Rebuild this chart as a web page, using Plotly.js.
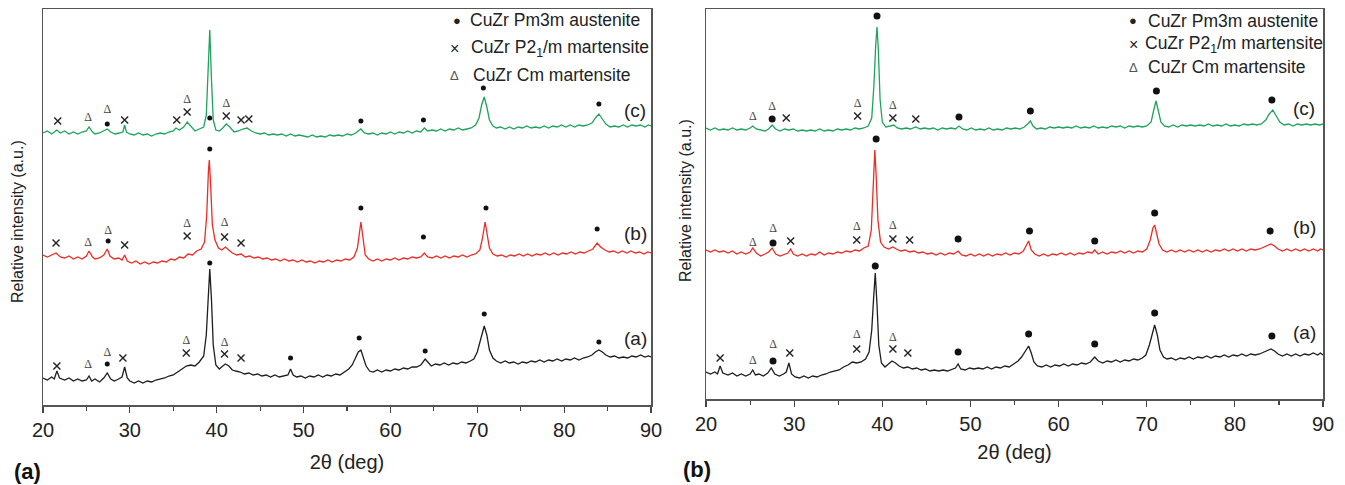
<!DOCTYPE html>
<html>
<head>
<meta charset="utf-8">
<script src="https://cdn.plot.ly/plotly-3.0.1.min.js"></script>
<style>html,body{margin:0;padding:0;background:#fff;}#chart{width:1345px;height:485px;}</style>
</head>
<body>
<div id="chart"></div>
<script>
// ---------- Panel (a): diffraction patterns [2theta, intensity a.u.] ----------
const panelA_a = [[20,27],[20.5,25],[21,28],[21.3,26],[21.6,34],[21.9,27],[22.5,25],[23,27],[23.5,24],[24,26],[24.5,24],[25,25],[25.3,29],[25.6,24],[26,26],[26.5,23],[27,27],[27.4,32],[27.8,26],[28.2,24],[28.7,26],[29.1,28],[29.4,38],[29.7,27],[30,24],[30.5,22],[31,24],[31.5,22],[32,24],[32.5,23],[33,25],[33.5,26],[34,27],[34.5,29],[35,30],[35.5,33],[36,36],[36.5,39],[37,40],[37.5,39],[38,43],[38.5,49],[38.8,70],[39,105],[39.2,136],[39.4,105],[39.6,60],[39.9,40],[40.3,36],[40.7,39],[41,41],[41.4,39],[41.8,35],[42.2,34],[42.7,33],[43.2,31],[43.7,32],[44.2,30],[44.7,31],[45.2,29],[45.7,30],[46.2,28],[46.7,30],[47.2,28],[47.7,29],[48.2,30],[48.5,36],[48.8,30],[49.2,28],[49.7,29],[50.2,27],[50.7,29],[51.2,28],[51.7,30],[52.2,28],[52.7,30],[53.2,29],[53.7,31],[54.2,30],[54.7,33],[55.2,36],[55.6,40],[56,47],[56.3,53],[56.6,55],[56.9,48],[57.2,39],[57.6,34],[58,33],[58.5,35],[59,33],[59.5,35],[60,34],[60.5,36],[61,35],[61.5,37],[62,36],[62.5,38],[63,38],[63.5,40],[64,46],[64.3,43],[64.7,39],[65.2,41],[65.7,40],[66.2,42],[66.7,40],[67.2,42],[67.7,41],[68.2,43],[68.7,42],[69.2,44],[69.6,46],[70,53],[70.4,65],[70.8,79],[71.1,70],[71.4,55],[71.8,47],[72.2,44],[72.7,42],[73.2,44],[73.7,42],[74.2,43],[74.7,41],[75.2,43],[75.7,42],[76.2,44],[76.7,43],[77.2,45],[77.7,43],[78.2,45],[78.7,44],[79.2,46],[79.7,44],[80.2,46],[80.7,45],[81.2,47],[81.7,45],[82.2,47],[82.7,48],[83.2,50],[83.6,53],[84,55],[84.4,53],[84.8,50],[85.3,48],[85.8,49],[86.3,47],[86.8,48],[87.3,47],[87.8,49],[88.3,48],[88.8,50],[89.3,48],[89.7,49],[90,48]];

const panelA_b = [[20,150],[20.5,148],[21,150],[21.5,152],[22,148],[22.5,147],[23,149],[23.5,146],[24,148],[24.5,146],[25,149],[25.3,154],[25.7,148],[26,146],[26.5,147],[27,150],[27.4,156],[27.7,149],[28.2,146],[28.7,147],[29.1,145],[29.4,150],[29.7,144],[30.2,142],[30.7,144],[31.2,141],[31.7,143],[32.2,141],[32.7,143],[33.2,142],[33.7,144],[34.2,143],[34.7,146],[35.2,145],[35.7,148],[36.2,147],[36.7,151],[37.2,150],[37.7,154],[38.2,156],[38.6,163],[38.85,190],[39.05,235],[39.15,245],[39.3,220],[39.5,180],[39.8,165],[40.2,157],[40.6,155],[41,158],[41.4,155],[41.8,152],[42.3,150],[42.8,151],[43.3,148],[43.8,149],[44.3,147],[44.8,148],[45.3,146],[45.8,147],[46.3,145],[46.8,146],[47.3,144],[47.8,146],[48.3,144],[48.8,145],[49.3,143],[49.8,145],[50.3,143],[50.8,144],[51.3,142],[51.8,144],[52.3,143],[52.8,145],[53.3,143],[53.8,145],[54.3,144],[54.8,146],[55.3,145],[55.8,148],[56.2,157],[56.45,177],[56.6,183],[56.8,170],[57.1,150],[57.5,146],[58,144],[58.5,146],[59,144],[59.5,146],[60,145],[60.5,147],[61,145],[61.5,147],[62,146],[62.5,148],[63,147],[63.5,148],[63.9,152],[64.3,148],[64.8,147],[65.3,149],[65.8,147],[66.3,149],[66.8,147],[67.3,149],[67.8,148],[68.3,150],[68.8,148],[69.3,150],[69.8,151],[70.3,155],[70.6,167],[70.9,183],[71.1,173],[71.4,157],[71.8,151],[72.3,149],[72.8,150],[73.3,148],[73.8,150],[74.3,149],[74.8,151],[75.3,149],[75.8,151],[76.3,149],[76.8,151],[77.3,150],[77.8,152],[78.3,150],[78.8,152],[79.3,150],[79.8,152],[80.3,151],[80.8,153],[81.3,151],[81.8,153],[82.3,152],[82.8,154],[83.3,156],[83.8,162],[84.2,158],[84.7,155],[85.2,153],[85.7,154],[86.2,152],[86.7,154],[87.2,152],[87.7,154],[88.2,152],[88.7,153],[89.2,151],[89.6,153],[90,152]];

const panelA_c = [[20,272],[20.5,274],[21,271],[21.6,275],[22,272],[22.5,274],[23,271],[23.5,273],[24,271],[24.5,273],[25,274],[25.3,278],[25.7,273],[26,271],[26.5,272],[27,274],[27.4,276],[27.8,273],[28.3,271],[28.8,272],[29.2,273],[29.4,280],[29.6,273],[30,271],[30.5,270],[31,272],[31.5,270],[32,271],[32.5,269],[33,271],[33.5,272],[34,271],[34.5,273],[35,274],[35.3,277],[35.7,275],[36.2,278],[36.6,283],[37,279],[37.5,274],[38,276],[38.5,278],[38.8,290],[39,330],[39.2,375],[39.4,325],[39.6,285],[39.9,275],[40.3,274],[40.7,277],[41.1,281],[41.5,278],[42,273],[42.5,274],[43,276],[43.5,277],[44,274],[44.5,272],[45,271],[45.5,272],[46,270],[46.5,271],[47,270],[47.5,271],[48,269],[48.5,271],[49,269],[49.5,270],[50,269],[50.5,268],[51,270],[51.5,268],[52,269],[52.5,268],[53,270],[53.5,269],[54,270],[54.5,269],[55,271],[55.5,270],[56,272],[56.6,276],[57,272],[57.5,271],[58,272],[58.5,270],[59,272],[59.5,271],[60,273],[60.5,271],[61,273],[61.5,272],[62,274],[62.5,272],[63,274],[63.5,273],[63.9,277],[64.3,274],[64.8,275],[65.3,274],[65.8,276],[66.3,274],[66.8,276],[67.3,275],[67.8,277],[68.3,275],[68.8,276],[69.3,277],[69.8,280],[70.2,287],[70.5,300],[70.8,308],[71.1,298],[71.4,285],[71.8,279],[72.2,277],[72.7,278],[73.2,276],[73.7,278],[74.2,276],[74.7,278],[75.2,277],[75.7,279],[76.2,277],[76.7,278],[77.2,277],[77.7,279],[78.2,277],[78.7,279],[79.2,278],[79.7,280],[80.2,278],[80.7,280],[81.2,278],[81.7,280],[82.2,279],[82.7,280],[83.2,282],[83.6,287],[84,291],[84.4,286],[84.8,281],[85.3,278],[85.8,279],[86.3,278],[86.8,280],[87.3,278],[87.8,280],[88.3,279],[88.8,280],[89.3,278],[89.7,280],[90,279]];

// ---------- Panel (b) ----------
const panelB_a = [[20,27],[20.5,25],[21,27],[21.3,25],[21.6,33],[21.9,26],[22.5,24],[23,26],[23.5,23],[24,25],[24.5,23],[25,25],[25.3,29],[25.6,24],[26,25],[26.5,23],[27,26],[27.4,31],[27.8,25],[28.3,23],[28.8,25],[29.1,27],[29.4,36],[29.7,25],[30.1,22],[30.6,21],[31.1,23],[31.6,21],[32.1,23],[32.6,22],[33.1,24],[33.6,25],[34.1,27],[34.6,28],[35.1,29],[35.6,32],[36.1,34],[36.6,37],[37.1,36],[37.6,37],[38.1,40],[38.5,47],[38.8,69],[39,99],[39.2,126],[39.4,94],[39.6,54],[39.9,36],[40.3,32],[40.7,35],[41.1,38],[41.5,36],[41.9,33],[42.4,31],[42.9,32],[43.4,30],[43.9,31],[44.4,29],[44.9,30],[45.4,28],[45.9,29],[46.4,28],[46.9,29],[47.4,28],[47.9,30],[48.3,31],[48.6,35],[48.9,30],[49.4,29],[49.9,31],[50.4,30],[50.9,31],[51.4,30],[51.9,32],[52.4,30],[52.9,32],[53.4,31],[53.9,33],[54.4,32],[54.9,35],[55.4,38],[55.8,42],[56.2,48],[56.6,53],[56.9,46],[57.2,37],[57.6,33],[58.1,32],[58.6,34],[59.1,32],[59.6,34],[60.1,33],[60.6,35],[61.1,33],[61.6,35],[62.1,34],[62.6,36],[63.1,35],[63.6,37],[64.1,42],[64.5,38],[65,36],[65.5,38],[66,37],[66.5,39],[67,37],[67.5,39],[68,38],[68.5,40],[69,39],[69.5,41],[69.9,44],[70.3,54],[70.6,64],[70.9,74],[71.2,64],[71.5,49],[71.9,42],[72.3,40],[72.8,41],[73.3,39],[73.8,41],[74.3,40],[74.8,42],[75.3,40],[75.8,42],[76.3,41],[76.8,43],[77.3,41],[77.8,43],[78.3,42],[78.8,44],[79.3,42],[79.8,44],[80.3,43],[80.8,45],[81.3,43],[81.8,45],[82.3,44],[82.8,45],[83.3,47],[83.7,49],[84.1,50],[84.5,48],[84.9,45],[85.4,43],[85.9,45],[86.4,43],[86.9,45],[87.4,43],[87.9,45],[88.4,44],[88.9,46],[89.4,44],[89.7,46],[90,44]];

const panelB_b = [[20,149],[20.5,147],[21,149],[21.5,147],[22,148],[22.5,146],[23,148],[23.5,145],[24,147],[24.5,145],[25,147],[25.3,151],[25.7,146],[26.2,143],[26.7,145],[27.1,147],[27.5,151],[27.9,145],[28.4,143],[28.9,145],[29.3,146],[29.6,150],[29.9,145],[30.4,143],[30.9,145],[31.4,143],[31.9,145],[32.4,144],[32.9,147],[33.4,144],[33.9,146],[34.4,145],[34.9,147],[35.4,146],[35.9,148],[36.4,147],[36.9,149],[37.4,148],[37.9,151],[38.4,153],[38.75,169],[38.95,209],[39.15,249],[39.3,224],[39.5,179],[39.8,157],[40.2,152],[40.7,150],[41.2,152],[41.6,150],[42.1,148],[42.6,149],[43.1,147],[43.6,148],[44.1,146],[44.6,147],[45.1,145],[45.6,146],[46.1,144],[46.6,146],[47.1,144],[47.6,146],[48.1,145],[48.6,148],[49,144],[49.5,143],[50,145],[50.5,143],[51,145],[51.5,143],[52,145],[52.5,143],[53,145],[53.5,144],[54,146],[54.5,144],[55,146],[55.5,145],[56,148],[56.3,153],[56.6,158],[56.9,149],[57.3,145],[57.8,143],[58.3,145],[58.8,143],[59.3,145],[59.8,144],[60.3,146],[60.8,144],[61.3,146],[61.8,144],[62.3,146],[62.8,145],[63.3,147],[63.8,146],[64.1,149],[64.5,145],[65,147],[65.5,145],[66,147],[66.5,146],[67,148],[67.5,146],[68,148],[68.5,146],[69,148],[69.5,147],[70,150],[70.4,159],[70.7,171],[70.9,174],[71.1,167],[71.4,155],[71.8,149],[72.3,147],[72.8,149],[73.3,147],[73.8,149],[74.3,147],[74.8,149],[75.3,147],[75.8,149],[76.3,147],[76.8,149],[77.3,147],[77.8,149],[78.3,148],[78.8,150],[79.3,148],[79.8,150],[80.3,148],[80.8,150],[81.3,148],[81.8,150],[82.3,149],[82.8,150],[83.3,152],[83.7,154],[84.1,155],[84.5,153],[84.9,150],[85.4,148],[85.9,150],[86.4,148],[86.9,150],[87.4,148],[87.9,150],[88.4,148],[88.9,150],[89.4,148],[89.7,150],[90,149]];

const panelB_c = [[20,271],[20.5,269],[21,271],[21.5,269],[22,270],[22.5,269],[23,271],[23.5,269],[24,270],[24.5,269],[25,271],[25.3,273],[25.7,270],[26.2,269],[26.7,268],[27.1,270],[27.5,274],[27.9,270],[28.4,268],[28.9,270],[29.4,269],[29.9,270],[30.4,268],[30.9,269],[31.4,268],[31.9,269],[32.4,268],[32.9,270],[33.4,268],[33.9,269],[34.4,268],[34.9,270],[35.4,269],[35.9,270],[36.4,269],[36.9,271],[37.4,270],[37.9,271],[38.4,273],[38.8,281],[39.05,314],[39.25,354],[39.4,372],[39.55,349],[39.75,299],[40,277],[40.4,272],[40.9,273],[41.3,274],[41.7,271],[42.2,270],[42.7,271],[43.2,270],[43.8,272],[44.3,270],[44.8,271],[45.3,270],[45.8,271],[46.3,269],[46.8,271],[47.3,270],[47.8,271],[48.3,270],[48.7,273],[49.1,270],[49.6,269],[50.1,271],[50.6,269],[51.1,270],[51.6,269],[52.1,271],[52.6,269],[53.1,270],[53.6,269],[54.1,271],[54.6,270],[55.1,271],[55.6,270],[56.1,272],[56.5,275],[56.8,278],[57.1,273],[57.5,270],[58,271],[58.5,270],[59,272],[59.5,271],[60,272],[60.5,271],[61,272],[61.5,271],[62,273],[62.5,271],[63,272],[63.5,271],[64,273],[64.5,271],[65,272],[65.5,271],[66,273],[66.5,272],[67,273],[67.5,271],[68,273],[68.5,272],[69,273],[69.5,272],[70,273],[70.5,277],[70.8,289],[71.05,298],[71.3,289],[71.6,277],[72,273],[72.5,272],[73,274],[73.5,272],[74,274],[74.5,273],[75,274],[75.5,273],[76,274],[76.5,273],[77,275],[77.5,273],[78,274],[78.5,273],[79,275],[79.5,273],[80,274],[80.5,273],[81,275],[81.5,274],[82,275],[82.5,274],[83,275],[83.5,279],[83.9,285],[84.3,289],[84.7,283],[85.1,277],[85.6,274],[86.1,275],[86.6,273],[87.1,275],[87.6,274],[88.1,275],[88.6,274],[89.1,275],[89.6,274],[90,275]];

// ---------- Phase identification markers [2theta, intensity] ----------
const austeniteA = [[27.4,281],[39.2,287],[56.6,284],[63.8,285],[70.7,317],[84.0,301],
                    [27.5,164],[39.2,256],[56.6,197],[63.8,168],[71.0,197],[83.8,176],
                    [27.4,41],[39.2,142],[48.5,47],[56.4,67],[64.0,54],[70.8,91],[84.0,63]];
const p21mA = [[21.7,284],[29.4,285],[35.4,285],[36.6,293],[41.1,289],[42.8,285],[43.7,286],
               [21.5,162],[29.4,160],[36.6,169],[40.9,168],[42.8,162],
               [21.6,39],[29.2,47],[36.5,52],[40.9,51],[42.8,47]];
const cmA = [[25.2,287],[27.4,295],[36.6,305],[41.1,301],
             [25.2,162],[27.5,174],[36.6,181],[40.9,182],
             [25.2,40],[27.4,52],[36.5,64],[40.9,62]];

const austeniteB = [[27.5,280],[39.4,383],[48.7,282],[56.8,288],[71.1,308],[84.2,299],
                    [27.6,156],[39.3,260],[48.6,160],[56.7,168],[64.1,158],[70.9,186],[84.0,168],
                    [27.6,38],[39.2,133],[48.6,47],[56.6,65],[64.1,55],[70.9,86],[84.2,63]];
const p21mB = [[29.1,281],[37.2,283],[41.2,281],[43.8,280],
               [29.6,158],[37.1,159],[41.2,160],[43.1,159],
               [21.6,41],[29.5,46],[37.1,50],[41.2,50],[42.9,46]];
const cmB = [[25.3,282],[27.5,292],[37.2,295],[41.2,293],
             [25.3,156],[27.6,170],[37.1,172],[41.2,173],
             [25.3,38],[27.6,54],[37.1,64],[41.2,61]];

// curve labels [2theta, intensity, text]
const curveLabelsA = [[88.2,295,'(c)'],[88.2,172,'(b)'],[88.2,67,'(a)']];
const curveLabelsB = [[87.9,291,'(c)'],[87.9,172,'(b)'],[87.9,67,'(a)']];

const legendNames = ['CuZr Pm3m austenite','CuZr P2<sub>1</sub>/m martensite','CuZr Cm martensite'];
const legendGlyphs = ['●','×','Δ'];
const axisTitleX = '2θ (deg)';
const axisTitleY = 'Relative intensity (a.u.)';
const panelTags = ['<b>(a)</b>','<b>(b)</b>'];

// ---------- styling ----------
const COL = {a:'#1e1e1e', b:'#ee2b25', c:'#1fa35c'};
const FONT = 'Liberation Sans, Arial, sans-serif';
const xs = p => p.map(d => d[0]);
const ys = p => p.map(d => d[1]);

function line(p, color, xa, ya){
  return {x: xs(p), y: ys(p), mode:'lines', type:'scatter', xaxis:xa, yaxis:ya,
          line:{color:color, width:1.3}, showlegend:false, hoverinfo:'skip'};
}
function dots(p, xa, ya, size){
  return {x: xs(p), y: ys(p), mode:'markers', type:'scatter', xaxis:xa, yaxis:ya,
          marker:{symbol:'circle', color:'#111', size:size}, showlegend:false, hoverinfo:'skip'};
}
function crosses(p, xa, ya, size){
  return {x: xs(p), y: ys(p), mode:'markers', type:'scatter', xaxis:xa, yaxis:ya,
          marker:{symbol:'x-thin', size:size, line:{color:'#222', width:1.4}}, showlegend:false, hoverinfo:'skip'};
}
function deltas(p, xa, ya, size){
  return {x: xs(p), y: ys(p), mode:'text', type:'scatter', xaxis:xa, yaxis:ya,
          text: p.map(()=> 'Δ'), textposition:'middle center',
          textfont:{family:'Liberation Serif, serif', size:size, color:'#444'}, showlegend:false, hoverinfo:'skip'};
}

const data = [
  line(panelA_a, COL.a, 'x', 'y'), line(panelA_b, COL.b, 'x', 'y'), line(panelA_c, COL.c, 'x', 'y'),
  line(panelB_a, COL.a, 'x2', 'y2'), line(panelB_b, COL.b, 'x2', 'y2'), line(panelB_c, COL.c, 'x2', 'y2'),
  dots(austeniteA, 'x', 'y', 5), crosses(p21mA, 'x', 'y', 7), deltas(cmA, 'x', 'y', 12),
  dots(austeniteB, 'x2', 'y2', 7), crosses(p21mB, 'x2', 'y2', 7), deltas(cmB, 'x2', 'y2', 12)
];

function xaxisCfg(domain, anchor, standoff){
  return {domain:domain, anchor:anchor, range:[20,90], tick0:20, dtick:10,
    ticks:'outside', ticklen:6, tickwidth:1.2, tickcolor:'#444',
    minor:{dtick:5, ticks:'outside', ticklen:4, tickwidth:1.2, tickcolor:'#444'},
    showline:true, linecolor:'#555', linewidth:1.5, mirror:true,
    showgrid:false, zeroline:false,
    tickfont:{family:FONT, size:20, color:'#222'},
    title:{text:axisTitleX, font:{family:FONT, size:20, color:'#222'}, standoff:standoff}};
}
function yaxisCfg(domain, anchor, range){
  return {domain:domain, anchor:anchor, range:range, showticklabels:false, ticks:'',
    showline:true, linecolor:'#555', linewidth:1.5, mirror:true,
    showgrid:false, zeroline:false};
}

const annotations = [];
function addLegend(xSym, xTxt, yList){
  for (let i=0;i<3;i++){
    annotations.push({xref:'paper', yref:'paper', x:xSym[i], y:yList[i], text:legendGlyphs[i], showarrow:false,
      xanchor:'center', yanchor:'middle', font:{family:FONT, size:i===0?13:(i===1?16:13), color:i===2?'#555':'#222'}});
    annotations.push({xref:'paper', yref:'paper', x:xTxt[i], y:yList[i], text:legendNames[i], showarrow:false,
      xanchor:'left', yanchor:'middle', font:{family:FONT, size:17.5, color:'#222'}});
  }
}
// paper coords: x = (px-43)/1280, y = (405-py)/396
addLegend([0.3234,0.3211,0.3211],[0.3320,0.3328,0.3344],[0.9722,0.9015,0.8333]);
addLegend([0.8516,0.8516,0.8516],[0.8617,0.8594,0.8617],[0.9697,0.9091,0.8535]);

curveLabelsA.forEach(l => annotations.push({xref:'x', yref:'y', x:l[0], y:l[1], text:l[2], showarrow:false,
  xanchor:'center', yanchor:'middle', font:{family:FONT, size:19, color:'#222'}}));
curveLabelsB.forEach(l => annotations.push({xref:'x2', yref:'y2', x:l[0], y:l[1], text:l[2], showarrow:false,
  xanchor:'center', yanchor:'middle', font:{family:FONT, size:19, color:'#222'}}));

// y-axis titles (rotated)
annotations.push({xref:'paper', yref:'paper', x:-0.0203, y:0.4621, text:axisTitleY, showarrow:false, textangle:-90,
  xanchor:'center', yanchor:'middle', font:{family:FONT, size:16, color:'#222'}});
annotations.push({xref:'paper', yref:'paper', x:0.5023, y:0.5177, text:axisTitleY, showarrow:false, textangle:-90,
  xanchor:'center', yanchor:'middle', font:{family:FONT, size:16, color:'#222'}});

annotations.push({xref:'paper', yref:'paper', x:-0.0125, y:-0.167, text:panelTags[0], showarrow:false,
  xanchor:'center', yanchor:'middle', font:{family:FONT, size:22, color:'#111'}});
annotations.push({xref:'paper', yref:'paper', x:0.5109, y:-0.164, text:panelTags[1], showarrow:false,
  xanchor:'center', yanchor:'middle', font:{family:FONT, size:22, color:'#111'}});

const layout = {
  width:1345, height:485,
  margin:{l:43, r:22, t:9, b:80, pad:0},
  paper_bgcolor:'#fff', plot_bgcolor:'#fff',
  font:{family:FONT, color:'#222'},
  showlegend:false,
  xaxis: xaxisCfg([0,0.475], 'y', 15),
  yaxis: yaxisCfg([0,1], 'x', [0,396]),
  xaxis2: xaxisCfg([0.518,1], 'y2', 11),
  yaxis2: yaxisCfg([0.01515,1], 'x2', [0,390]),
  annotations: annotations
};

Plotly.newPlot('chart', data, layout, {displayModeBar:false, staticPlot:true});
</script>
</body>
</html>
